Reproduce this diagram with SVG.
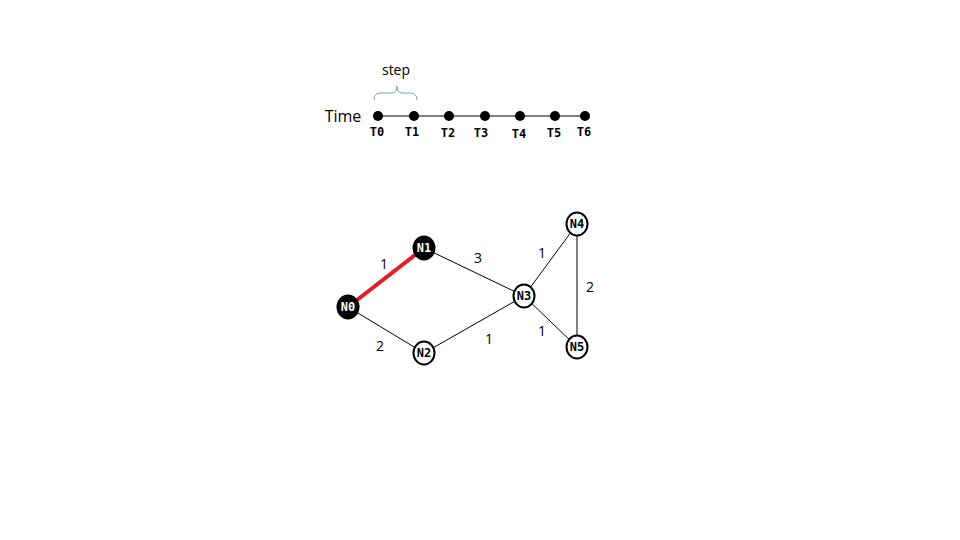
<svg xmlns="http://www.w3.org/2000/svg" width="960" height="540" viewBox="0 0 960 540">
<style>
.lbl{font-family:"Open Sans","Liberation Sans",sans-serif;font-size:14px;fill:#000;text-anchor:middle}
.t{font-family:"DejaVu Sans Mono","Liberation Mono",monospace;font-weight:bold;font-size:12px;fill:#000;text-anchor:middle}
.nw ellipse{fill:#fff;stroke:#000;stroke-width:2}
.nb ellipse{fill:#000;stroke:#000;stroke-width:2}
.nw text{font-family:"DejaVu Sans Mono","Liberation Mono",monospace;font-weight:bold;font-size:12px;fill:#000;text-anchor:middle}
.nb text{font-family:"DejaVu Sans Mono","Liberation Mono",monospace;font-weight:bold;font-size:12px;fill:#fff;text-anchor:middle}
.e{stroke:#000;stroke-width:1;fill:none}
.dot{fill:#000}
</style>
<rect width="960" height="540" fill="#fff"/>
<g id="timeline">
<text x="396" y="75" class="lbl">step</text>
<path d="M374,100 Q374,93 381,93 L392,93 Q397,93 397,86 Q397,93 402,93 L410,93 Q417,93 417,100" fill="none" stroke="#7f9db9" stroke-width="1"/>
<text x="343" y="122" class="lbl" style="font-size:16px">Time</text>
<line x1="378" y1="116" x2="585" y2="116" stroke="#000" stroke-width="1"/>
<circle cx="378" cy="116" r="5" class="dot"/>
<circle cx="414" cy="116" r="5" class="dot"/>
<circle cx="449" cy="116" r="5" class="dot"/>
<circle cx="485" cy="116" r="5" class="dot"/>
<circle cx="520" cy="116" r="5" class="dot"/>
<circle cx="555" cy="116" r="5" class="dot"/>
<circle cx="585" cy="116" r="5" class="dot"/>
<text x="377" y="136" class="t">T0</text>
<text x="412" y="136" class="t">T1</text>
<text x="448" y="137" class="t">T2</text>
<text x="481" y="137" class="t">T3</text>
<text x="519" y="138" class="t">T4</text>
<text x="554" y="137" class="t">T5</text>
<text x="584" y="136" class="t">T6</text>
</g>
<g id="connectors">
<line x1="348" y1="307" x2="424" y2="248" stroke="#e02020" stroke-width="4"/>
<line x1="348" y1="307" x2="424" y2="353" class="e"/>
<line x1="424" y1="248" x2="524" y2="296" class="e"/>
<line x1="424" y1="353" x2="524" y2="296" class="e"/>
<line x1="524" y1="296" x2="577" y2="224" class="e"/>
<line x1="524" y1="296" x2="577" y2="347" class="e"/>
<line x1="577" y1="224" x2="577" y2="347" class="e"/>
<text x="384" y="269" class="lbl">1</text>
<text x="478" y="263" class="lbl">3</text>
<text x="542" y="258" class="lbl">1</text>
<text x="590" y="292" class="lbl">2</text>
<text x="489" y="344" class="lbl">1</text>
<text x="542" y="336" class="lbl">1</text>
<text x="380" y="351" class="lbl">2</text>
</g>
<g id="N0" class="nb"><ellipse cx="348" cy="307" rx="10.5" ry="11.5"/><text x="348" y="311">N0</text></g>
<g id="N1" class="nb"><ellipse cx="424" cy="248" rx="10.5" ry="11.5"/><text x="424" y="252">N1</text></g>
<g id="N2" class="nw"><ellipse cx="424" cy="353" rx="10.5" ry="11.5"/><text x="424" y="357">N2</text></g>
<g id="N3" class="nw"><ellipse cx="524" cy="296" rx="10.5" ry="11.5"/><text x="524" y="300">N3</text></g>
<g id="N4" class="nw"><ellipse cx="577" cy="224" rx="10.5" ry="11.5"/><text x="577" y="228">N4</text></g>
<g id="N5" class="nw"><ellipse cx="577" cy="347" rx="10.5" ry="11.5"/><text x="577" y="351">N5</text></g>
</svg>
